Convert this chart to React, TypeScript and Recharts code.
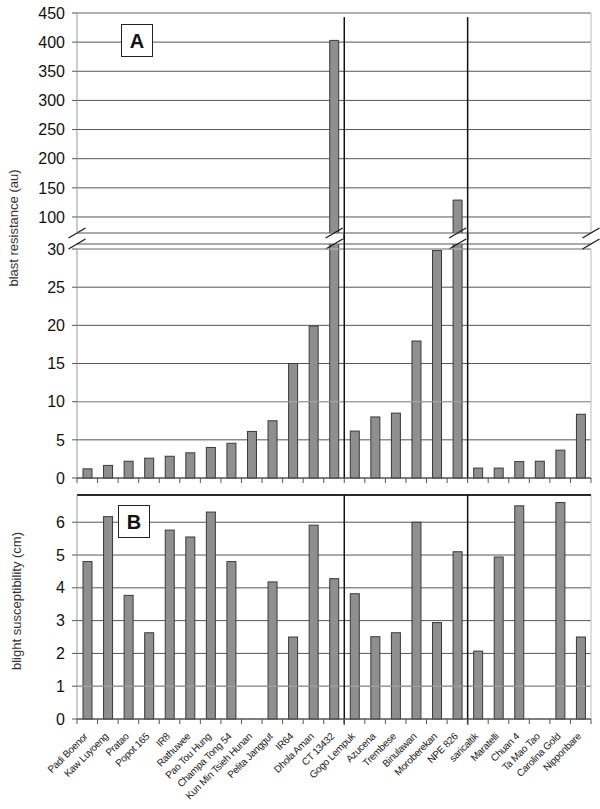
import React from 'react';
import { BarChart, Bar, XAxis, YAxis, CartesianGrid, ReferenceLine } from 'recharts';

// ---------------- data ----------------
const cultivars = [
  'Padi Boenor', 'Kaw Luyoeng', 'Pratao', 'Popot 165', 'IR8', 'Rathuwee', 'Pao Tou Hung',
  'Champa Tong 54', 'Kun Min Tsieh Hunan', 'Pelita Janggut', 'IR64', 'Dhola Aman', 'CT 13432',
  'Gogo Lempuk', 'Azucena', 'Trembese', 'Binulawan', 'Moroberekan', 'NPE 826',
  'saricaltik', 'Maratelli', 'Chuan 4', 'Ta Mao Tao', 'Carolina Gold', 'Nipponbare',
];
const blastResistance = [
  1.2, 1.65, 2.2, 2.6, 2.85, 3.3, 4.0, 4.55, 6.1, 7.5, 15.0, 19.9, 403,
  6.15, 8.0, 8.5, 17.95, 29.8, 129,
  1.3, 1.3, 2.15, 2.2, 3.65, 8.35,
];
const blightSusceptibility: (number | null)[] = [
  4.8, 6.17, 3.77, 2.63, 5.76, 5.55, 6.31, 4.8, null, 4.18, 2.5, 5.91, 4.28,
  3.82, 2.51, 2.63, 6.0, 2.94, 5.1,
  2.07, 4.94, 6.5, null, 6.6, 2.5,
];
const upperTicks = [100, 150, 200, 250, 300, 350, 400, 450];
const lowerTicks = [0, 5, 10, 15, 20, 25, 30];
const blightTicks = [0, 1, 2, 3, 4, 5, 6];
// first cultivar of each group after the first one
const groupStarts = ['Gogo Lempuk', 'saricaltik'];

// ---------------- layout ----------------
const W = 600;
const PLOT_LEFT = 77;
const PLOT_RIGHT = 591;
const N = cultivars.length;
const BAND = (PLOT_RIGHT - PLOT_LEFT) / N;
const BREAK_AT = 30;
const UPPER_DOMAIN: [number, number] = [72.5, 450];
const LOWER_DOMAIN: [number, number] = [0, 30.66];
const BLIGHT_DOMAIN: [number, number] = [0, 6.83];
const FIRST = cultivars[0];
const LAST = cultivars[N - 1];

const BAR_FILL = '#8f8f8f';
const BAR_STROKE = '#3a3a3a';
const GRID = '#555';
const FRAME = '#bbb';
const AXIS = '#999';
const SEP = '#111';

const upperData = cultivars.map((name, i) => ({
  name, v: blastResistance[i] > BREAK_AT ? blastResistance[i] : null, raw: blastResistance[i],
}));
const lowerData = cultivars.map((name, i) => ({
  name, v: Math.min(blastResistance[i], LOWER_DOMAIN[1]), raw: blastResistance[i],
}));
const blightData = cultivars.map((name, i) => ({ name, v: blightSusceptibility[i] }));

const Slash = ({ cx, cy }: { cx: number; cy: number }) => (
  <line x1={cx - 8.5} y1={cy + 5} x2={cx + 8.5} y2={cy - 5} stroke="#1a1a1a" strokeWidth={1.3} />
);

// break marks at both ends of the plot, drawn from a reference line's end points
const UpperBreakLine = (p: any) => {
  const { x1, x2, y1 } = p;
  if (!isFinite(x1) || !isFinite(y1)) return <g />;
  return (
    <g>
      <Slash cx={x1} cy={y1} />
      <Slash cx={x2} cy={y1} />
    </g>
  );
};
const LowerBreakLine = (p: any) => {
  const { x1, x2, y1, y2 } = p;
  if (!isFinite(x1) || !isFinite(y1)) return <g />;
  return (
    <g>
      <line x1={x1} y1={y1} x2={x2} y2={y2} stroke={FRAME} />
      <Slash cx={x1} cy={y1 - 5} />
      <Slash cx={x2} cy={y1 - 5} />
    </g>
  );
};

const UpperBar = (p: any) => {
  const { x, y, width, height } = p;
  if (height == null || !isFinite(height) || !isFinite(y)) return <g />;
  const b = y + height;
  return (
    <g>
      <rect x={x} y={y} width={width} height={height} fill={BAR_FILL} />
      <path d={`M${x},${b} L${x},${y} L${x + width},${y} L${x + width},${b}`} fill="none" stroke={BAR_STROKE} strokeWidth={1} />
      <Slash cx={x + width / 2} cy={b} />
    </g>
  );
};

const LowerBar = (p: any) => {
  const { x, y, width, height, payload } = p;
  if (height == null || !isFinite(height) || !isFinite(y)) return <g />;
  const broken = payload && payload.raw > BREAK_AT;
  const b = y + height;
  return (
    <g>
      <rect x={x} y={y} width={width} height={height} fill={BAR_FILL} />
      {broken ? (
        <>
          <path d={`M${x},${y} L${x},${b} L${x + width},${b} L${x + width},${y}`} fill="none" stroke={BAR_STROKE} strokeWidth={1} />
          <Slash cx={x + width / 2} cy={y} />
        </>
      ) : (
        <rect x={x} y={y} width={width} height={height} fill="none" stroke={BAR_STROKE} strokeWidth={1} />
      )}
    </g>
  );
};

const PlainBar = (p: any) => {
  const { x, y, width, height } = p;
  if (height == null || !isFinite(height) || !isFinite(y) || height <= 0) return <g />;
  return <rect x={x} y={y} width={width} height={height} fill={BAR_FILL} stroke={BAR_STROKE} strokeWidth={1} />;
};

const BoundaryTick = (p: any) => {
  const { x, y, index } = p;
  return (
    <g>
      <line x1={x - BAND / 2} y1={y} x2={x - BAND / 2} y2={y + 5} stroke={GRID} />
      {index === N - 1 && <line x1={x + BAND / 2} y1={y} x2={x + BAND / 2} y2={y + 5} stroke={GRID} />}
    </g>
  );
};

const LabelTick = (p: any) => {
  const { x, y, index, payload } = p;
  const ax = x + 1;
  const ay = y + 18;
  return (
    <g>
      <line x1={x - BAND / 2} y1={y} x2={x - BAND / 2} y2={y + 5} stroke={GRID} />
      {index === N - 1 && <line x1={x + BAND / 2} y1={y} x2={x + BAND / 2} y2={y + 5} stroke={GRID} />}
      <text x={ax} y={ay} transform={`rotate(-45 ${ax} ${ay})`} textAnchor="end" fontSize={10} fill="#222" letterSpacing={-0.3}>
        {payload.value}
      </text>
    </g>
  );
};

const yTick = { fontSize: 16, fill: '#111' };

export default function App() {
  return (
    <div style={{ position: 'absolute', left: 0, top: 0, width: W, height: 809, background: '#fff', fontFamily: '"Liberation Sans", Arial, sans-serif' }}>
      {/* Panel A upper part */}
      <div style={{ position: 'absolute', left: 0, top: 0 }}>
        <BarChart width={W} height={240} data={upperData} margin={{ top: 13, right: W - PLOT_RIGHT, bottom: 7, left: 0 }} barSize={9}>
          <CartesianGrid vertical={false} stroke={GRID} />
          <XAxis dataKey="name" hide />
          <YAxis width={PLOT_LEFT} domain={UPPER_DOMAIN} ticks={upperTicks} interval={0} tick={yTick} tickSize={5} tickMargin={7} tickLine={{ stroke: GRID }} axisLine={{ stroke: AXIS }} />
          <ReferenceLine y={450} stroke={FRAME} />
          <ReferenceLine x={LAST} position="end" stroke={FRAME} />
          <Bar dataKey="v" isAnimationActive={false} shape={UpperBar} />
          {groupStarts.map((g) => (
            <ReferenceLine key={g} segment={[{ x: g, y: 443 }, { x: g, y: 60.5 }]} position="start" stroke={SEP} strokeWidth={1.5} ifOverflow="visible" />
          ))}
          <ReferenceLine y={UPPER_DOMAIN[0]} shape={UpperBreakLine} ifOverflow="visible" />
        </BarChart>
      </div>

      {/* Panel A lower part */}
      <div style={{ position: 'absolute', left: 0, top: 234 }}>
        <BarChart width={W} height={261} data={lowerData} margin={{ top: 10, right: W - PLOT_RIGHT, bottom: 0, left: 0 }} barSize={9}>
          <CartesianGrid vertical={false} stroke={GRID} />
          <XAxis dataKey="name" height={17} interval={0} tickSize={0} tickMargin={0} tickLine={false} tick={BoundaryTick} axisLine={{ stroke: GRID }} />
          <YAxis width={PLOT_LEFT} domain={LOWER_DOMAIN} ticks={lowerTicks} interval={0} tick={yTick} tickSize={5} tickMargin={7} tickLine={{ stroke: GRID }} axisLine={false} />
          <ReferenceLine y={10} stroke="#a8a8a8" />
          <ReferenceLine segment={[{ x: FIRST, y: 0 }, { x: FIRST, y: 30 }]} position="start" stroke={AXIS} />
          <ReferenceLine segment={[{ x: LAST, y: 0 }, { x: LAST, y: 30 }]} position="end" stroke={FRAME} />
          <ReferenceLine y={30} shape={LowerBreakLine} ifOverflow="visible" />
          <Bar dataKey="v" isAnimationActive={false} shape={LowerBar} />
          {groupStarts.map((g) => (
            <ReferenceLine key={g} segment={[{ x: g, y: 31.97 }, { x: g, y: 0 }]} position="start" stroke={SEP} strokeWidth={1.5} ifOverflow="visible" />
          ))}
        </BarChart>
      </div>

      {/* Panel B */}
      <div style={{ position: 'absolute', left: 0, top: 485 }}>
        <BarChart width={W} height={324} data={blightData} margin={{ top: 10, right: W - PLOT_RIGHT, bottom: 0, left: 0 }} barSize={9}>
          <CartesianGrid vertical={false} stroke={GRID} />
          <XAxis dataKey="name" height={90} interval={0} tickSize={0} tickMargin={0} tickLine={false} tick={LabelTick} axisLine={{ stroke: GRID }} />
          <YAxis width={PLOT_LEFT} domain={BLIGHT_DOMAIN} ticks={blightTicks} interval={0} tick={yTick} tickSize={5} tickMargin={7} tickLine={{ stroke: GRID }} axisLine={{ stroke: AXIS }} />
          <ReferenceLine y={1} stroke="#a8a8a8" />
          <ReferenceLine x={LAST} position="end" stroke={FRAME} />
          <ReferenceLine y={BLIGHT_DOMAIN[1]} stroke="#000" strokeWidth={1.5} />
          <Bar dataKey="v" isAnimationActive={false} shape={PlainBar} />
          {groupStarts.map((g) => (
            <ReferenceLine key={g} segment={[{ x: g, y: BLIGHT_DOMAIN[1] }, { x: g, y: -0.17 }]} position="start" stroke={SEP} strokeWidth={1.5} ifOverflow="visible" />
          ))}
        </BarChart>
      </div>

      {/* titles and panel letters */}
      <svg width={W} height={809} style={{ position: 'absolute', left: 0, top: 0, pointerEvents: 'none' }}>
        <text x={18} y={228} transform="rotate(-90 18 228)" textAnchor="middle" fontSize={13} fill="#333">blast resistance (au)</text>
        <text x={21} y={601} transform="rotate(-90 21 601)" textAnchor="middle" fontSize={13} fill="#333">blight susceptibility (cm)</text>
        <rect x={121.5} y={24.5} width={31} height={32} fill="#fff" stroke="#222" strokeWidth={1} />
        <text x={137} y={48} textAnchor="middle" fontSize={20} fontWeight="bold" fill="#111">A</text>
        <rect x={118.5} y={505.5} width={31} height={32} fill="#fff" stroke="#222" strokeWidth={1} />
        <text x={134} y={529} textAnchor="middle" fontSize={20} fontWeight="bold" fill="#111">B</text>
      </svg>
    </div>
  );
}
